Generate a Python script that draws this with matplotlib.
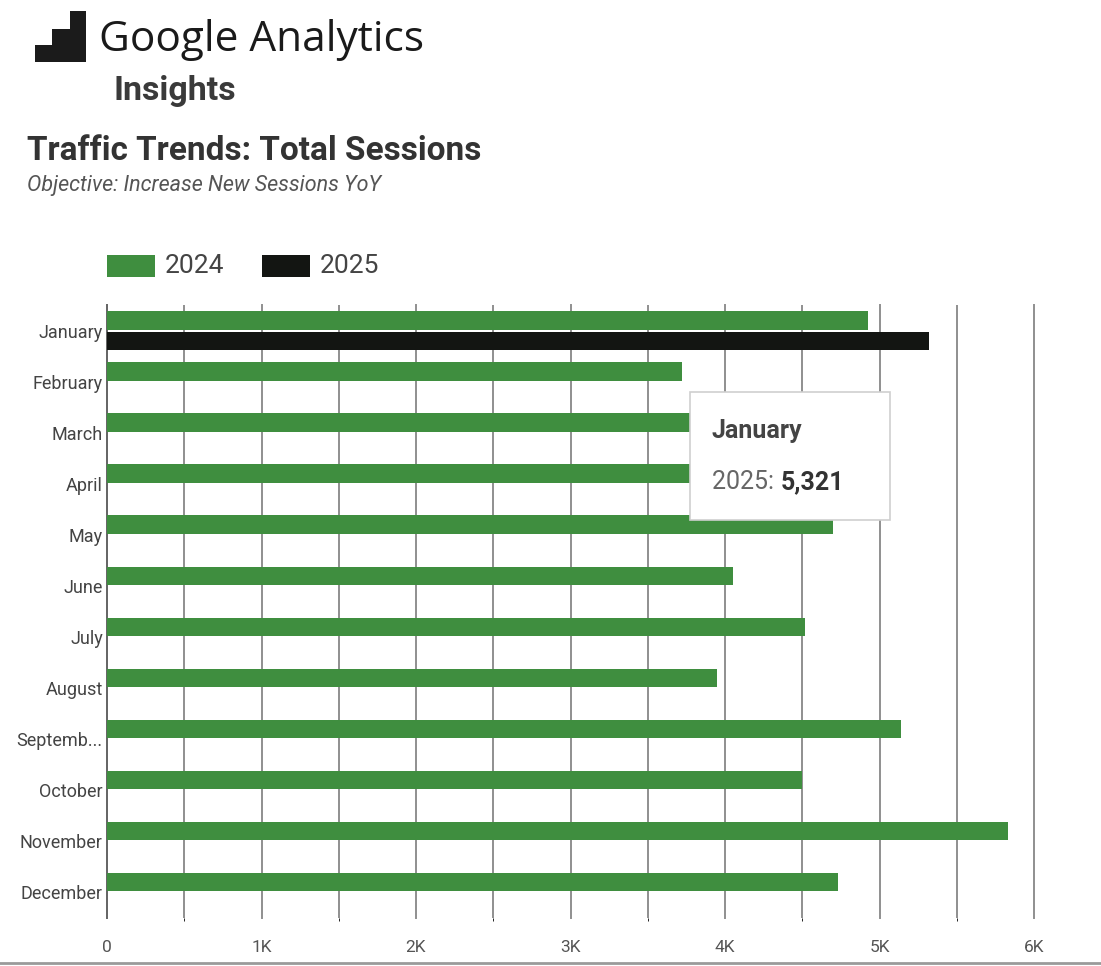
import matplotlib
matplotlib.use("Agg")
import matplotlib.pyplot as plt
from matplotlib.patches import Rectangle, Polygon
import numpy as np

months = ["January", "February", "March", "April", "May", "June", "July",
          "August", "Septemb...", "October", "November", "December"]
sessions_2024 = [4925, 3720, 4150, 4320, 4700, 4050, 4520, 3950, 5140, 4500, 5830, 4730]
sessions_2025 = [5321, np.nan, np.nan, np.nan, np.nan, np.nan, np.nan, np.nan, np.nan, np.nan, np.nan, np.nan]
series_names = ["2024", "2025"]
x_ticks = [0, 1000, 2000, 3000, 4000, 5000, 6000]
x_tick_labels = ["0", "1K", "2K", "3K", "4K", "5K", "6K"]
tooltip_title = "January"
tooltip_value = "5,321"

GREEN = "#3f8e3f"
BLACK = "#131512"
W, H = 1101, 966
plt.rcParams['font.family'] = ['Roboto', 'DejaVu Sans']

fig = plt.figure(figsize=(W / 100, H / 100), dpi=100)
fig.patch.set_facecolor("white")

def fx(px):
    return px / W

def fy(py):
    return 1 - py / H

ax = fig.add_axes([fx(107), fy(918), fx(1034) - fx(107), fy(305) - fy(918)])
y = np.arange(len(months))
bh = 0.36
ax.barh(y - 0.2, sessions_2024, height=bh, color=GREEN, zorder=3)
ax.barh(y + 0.2, sessions_2025, height=bh, color=BLACK, zorder=3)
ax.set_ylim(len(months) - 0.5, -0.5)
ax.set_xlim(0, 6000)
ax.set_yticks(y)
ax.set_yticklabels(months, fontsize=13, color="#444444")
ax.set_xticks(x_ticks)
ax.set_xticklabels(x_tick_labels, fontsize=12.5, color="#555555")
ax.set_xticks(np.arange(500, 6000, 1000), minor=True)
ax.tick_params(axis="both", length=0, pad=3)
ax.tick_params(axis="x", pad=16)
ax.grid(axis="x", which="both", color="#8f8f8f", linewidth=1.4, zorder=0)
for gl in ax.get_xgridlines():
    gl.set_clip_on(False)
for s in ["top", "right", "bottom"]:
    ax.spines[s].set_visible(False)
ax.spines["left"].set_color("#666666")
ax.spines["left"].set_linewidth(1.4)

# Tooltip
tip = Rectangle((fx(690), fy(520)), fx(890) - fx(690), fy(392) - fy(520),
                transform=fig.transFigure, facecolor="white", edgecolor="#cfcfcf",
                linewidth=1.2, zorder=10)
fig.patches.append(tip)
fig.text(fx(712), fy(431), tooltip_title, fontsize=18, fontweight="bold",
         color="#444444", va="center", ha="left", zorder=11)
t1 = fig.text(fx(712), fy(482), f"{series_names[1]}: ", fontsize=18,
              color="#666666", va="center", ha="left", zorder=11)
fig.canvas.draw()
bb = t1.get_window_extent()
fig.text(bb.x1 / W, fy(482), tooltip_value, fontsize=18, fontweight="bold",
         color="#333333", va="center", ha="left", zorder=11)

# Legend
fig.patches.append(Rectangle((fx(107), fy(277)), fx(48), fy(0) - fy(22), transform=fig.transFigure,
                             facecolor=GREEN, edgecolor="none"))
fig.text(fx(165), fy(266), series_names[0], fontsize=19, color="#444444", va="center", ha="left")
fig.patches.append(Rectangle((fx(262), fy(277)), fx(48), fy(0) - fy(22), transform=fig.transFigure,
                             facecolor=BLACK, edgecolor="none"))
fig.text(fx(320), fy(266), series_names[1], fontsize=19, color="#444444", va="center", ha="left")

# Header: logo (stair shape)
stair = [(35, 62), (35, 45), (52, 45), (52, 29), (70, 29), (70, 11), (86, 11), (86, 62)]
fig.patches.append(Polygon([(fx(a), fy(b)) for a, b in stair], closed=True,
                           transform=fig.transFigure, facecolor="#1b1b1b", edgecolor="none"))
fig.text(fx(99), fy(40), "Google Analytics", fontsize=30.5, color="#1a1a1a",
         va="center", ha="left", family=["Open Sans", "DejaVu Sans"])
fig.text(fx(113), fy(91), "Insights", fontsize=24.5, fontweight="bold", color="#3a3a3a",
         va="center", ha="left")
fig.text(fx(27), fy(151), "Traffic Trends: Total Sessions", fontsize=24, fontweight="bold",
         color="#333333", va="center", ha="left")
fig.text(fx(27), fy(186), "Objective: Increase New Sessions YoY", fontsize=15.5, style="italic",
         color="#555555", va="center", ha="left")

# bottom border line
fig.add_artist(plt.Line2D([0, 1], [fy(963), fy(963)], transform=fig.transFigure,
                          color="#9a9a9a", linewidth=2))

fig.savefig("out.png", dpi=100, facecolor="white")
